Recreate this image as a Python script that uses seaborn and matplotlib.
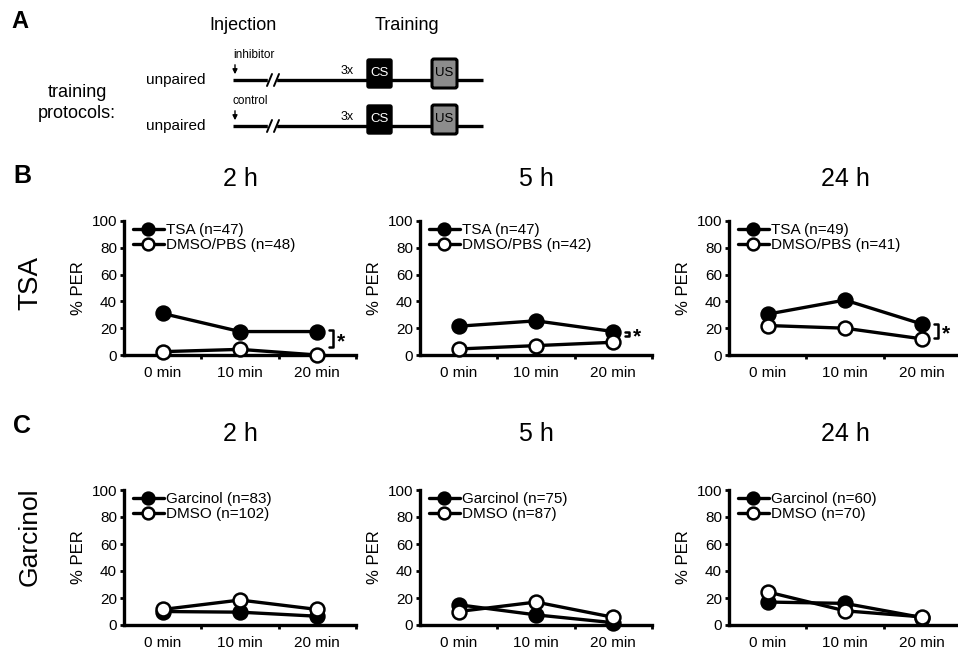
import numpy as np
import pandas as pd
import seaborn as sns
import matplotlib
matplotlib.use("Agg")
from matplotlib import pyplot as plt
from matplotlib.patches import FancyBboxPatch

# Data (% PER)
TIMES = ["0 min", "10 min", "20 min"]
DELAYS = ["2 h", "5 h", "24 h"]

TSA_LABELS = ["TSA (n=47)", "TSA (n=47)", "TSA (n=49)"]
TSA_CTRL_LABELS = ["DMSO/PBS (n=48)", "DMSO/PBS (n=42)", "DMSO/PBS (n=41)"]
TSA_2H = [31, 17.5, 17.5]
TSA_5H = [21.5, 25.5, 17.5]
TSA_24H = [30.5, 41, 23]
TSA_CTRL_2H = [2.5, 4.2, 0]
TSA_CTRL_5H = [4.5, 7, 9.5]
TSA_CTRL_24H = [22, 20, 12]

GAR_LABELS = ["Garcinol (n=83)", "Garcinol (n=75)", "Garcinol (n=60)"]
GAR_CTRL_LABELS = ["DMSO (n=102)", "DMSO (n=87)", "DMSO (n=70)"]
GAR_2H = [10, 9.5, 6.5]
GAR_5H = [15, 7.5, 1.7]
GAR_24H = [17, 16, 5.5]
GAR_CTRL_2H = [11.5, 18.5, 11.5]
GAR_CTRL_5H = [10, 17, 5.7]
GAR_CTRL_24H = [24.5, 10.5, 6]

# significance bracket spans (top, bottom) at 20 min, TSA row only
BRACKETS = [(19, 6), (17.5, 14), (23.5, 12.5)]

FIG_W, FIG_H = 958, 653
LW = 2.4


def px_axes(fig, left, top, width, height):
    return fig.add_axes([left / FIG_W, 1 - (top + height) / FIG_H, width / FIG_W, height / FIG_H])


def draw_panel(ax, title, title_pad, drug_label, drug_vals, ctrl_label, ctrl_vals, bracket=None):
    df = pd.DataFrame({
        "pos": list(range(len(TIMES))) * 2,
        "per": list(drug_vals) + list(ctrl_vals),
        "group": [drug_label] * len(TIMES) + [ctrl_label] * len(TIMES),
    })
    for grp, face in [(drug_label, "black"), (ctrl_label, "white")]:
        sub = df[df["group"] == grp]
        sns.lineplot(data=sub, x="pos", y="per", ax=ax, color="black", linewidth=LW,
                     marker="o", markersize=10, markerfacecolor=face,
                     markeredgecolor="black", markeredgewidth=1.8,
                     label=grp, clip_on=False, zorder=3)

    ax.set_xlim(-0.5, 2.5)
    ax.set_ylim(0, 100)
    ax.set_yticks(range(0, 101, 20))
    ax.set_xticks(range(len(TIMES)))
    ax.set_xticklabels(TIMES)
    ax.set_xticks([0.5, 1.5, 2.5], minor=True)
    ax.tick_params(axis="x", which="major", length=0, pad=8, labelsize=11)
    ax.tick_params(axis="x", which="minor", length=3, width=2, direction="out")
    ax.tick_params(axis="y", length=3, width=2, pad=2, labelsize=11)
    ax.set_xlabel("")
    ax.set_ylabel("% PER", fontsize=12, labelpad=4)
    sns.despine(ax=ax)
    for s in ["left", "bottom"]:
        ax.spines[s].set_linewidth(LW)
    ax.set_title(title, fontsize=18, pad=title_pad)

    ax.legend(loc="upper left", bbox_to_anchor=(0.0, 1.05), frameon=False,
              fontsize=11, handlelength=2.0, handletextpad=0.15, labelspacing=0.05,
              borderaxespad=0.2, markerscale=0.85)

    if bracket is not None:
        top, bot = bracket
        bx = 2.2
        ax.plot([bx - 0.045, bx, bx, bx - 0.045], [top, top, bot, bot], color="black",
                lw=1.8, clip_on=False)
        ax.text(bx + 0.05, (top + bot) / 2 - 2.5, "*", fontsize=15, va="center", ha="left",
                fontweight="bold")


sns.set_theme(style="ticks")
plt.rcParams["font.family"] = ["Liberation Sans", "DejaVu Sans"]
plt.rcParams["axes.edgecolor"] = "black"
plt.rcParams["xtick.color"] = "black"
plt.rcParams["ytick.color"] = "black"
plt.rcParams["text.color"] = "black"
plt.rcParams["axes.labelcolor"] = "black"

fig = plt.figure(figsize=(FIG_W / 100, FIG_H / 100), dpi=100)

# Panel A: schematic
ax_a = fig.add_axes([0, 1 - 150 / FIG_H, 1, 150 / FIG_H])
ax_a.set_xlim(0, FIG_W)
ax_a.set_ylim(150, 0)
ax_a.axis("off")
ax_a.text(243, 25, "Injection", fontsize=13, ha="center", va="center")
ax_a.text(407, 25, "Training", fontsize=13, ha="center", va="center")
ax_a.text(77, 103, "training\nprotocols:", fontsize=13, ha="center", va="center", linespacing=1.25)
for y, lab in [(80, "inhibitor"), (126, "control")]:
    ax_a.text(206, y, "unpaired", fontsize=11, ha="right", va="center")
    ax_a.plot([233, 483], [y, y], color="black", lw=LW, solid_capstyle="butt")
    ax_a.fill_between([268, 276], y - 4, y + 4, color="white", zorder=2)
    for bx in [267, 274]:
        ax_a.plot([bx, bx + 5], [y + 6, y - 6], color="black", lw=1.4, zorder=3)
    ax_a.annotate("", xy=(235, y - 3), xytext=(235, y - 18),
                  arrowprops=dict(arrowstyle="-|>", color="black", lw=1, mutation_scale=7))
    ax_a.text(233, y - 25, lab, fontsize=8.5, ha="left", va="center")
    ax_a.text(347, y - 9, "3x", fontsize=9, ha="center", va="center")
    ax_a.add_patch(FancyBboxPatch((368, y - 20), 23, 27, boxstyle="round,pad=1,rounding_size=2",
                                  fc="black", ec="black", lw=1, zorder=4))
    ax_a.text(379.5, y - 6.5, "CS", fontsize=9.5, color="white", ha="center", va="center", zorder=5)
    ax_a.add_patch(FancyBboxPatch((433, y - 20), 23, 27, boxstyle="round,pad=1,rounding_size=2",
                                  fc="#8c8c8c", ec="black", lw=2.2, zorder=4))
    ax_a.text(444.5, y - 6.5, "US", fontsize=9.5, color="black", ha="center", va="center", zorder=5)

# Panels B and C
lefts = [124, 420, 729]
b_drug = [TSA_2H, TSA_5H, TSA_24H]
b_ctrl = [TSA_CTRL_2H, TSA_CTRL_5H, TSA_CTRL_24H]
c_drug = [GAR_2H, GAR_5H, GAR_24H]
c_ctrl = [GAR_CTRL_2H, GAR_CTRL_5H, GAR_CTRL_24H]

for i, left in enumerate(lefts):
    ax_b = px_axes(fig, left, 221, 232, 134)
    draw_panel(ax_b, DELAYS[i], 25, TSA_LABELS[i], b_drug[i], TSA_CTRL_LABELS[i], b_ctrl[i],
               bracket=BRACKETS[i])
    ax_c = px_axes(fig, left, 490, 232, 135)
    draw_panel(ax_c, DELAYS[i], 35, GAR_LABELS[i], c_drug[i], GAR_CTRL_LABELS[i], c_ctrl[i])

fig.text(20 / FIG_W, 1 - 22 / FIG_H, "A", fontsize=17, fontweight="bold", ha="center", va="center")
fig.text(22 / FIG_W, 1 - 176 / FIG_H, "B", fontsize=18, fontweight="bold", ha="center", va="center")
fig.text(22 / FIG_W, 1 - 426 / FIG_H, "C", fontsize=18, fontweight="bold", ha="center", va="center")
fig.text(30 / FIG_W, 1 - 283 / FIG_H, "TSA", fontsize=20, rotation=90, ha="center", va="center")
fig.text(30 / FIG_W, 1 - 537 / FIG_H, "Garcinol", fontsize=19, rotation=90, ha="center", va="center")

fig.savefig("out.png", dpi=100)
